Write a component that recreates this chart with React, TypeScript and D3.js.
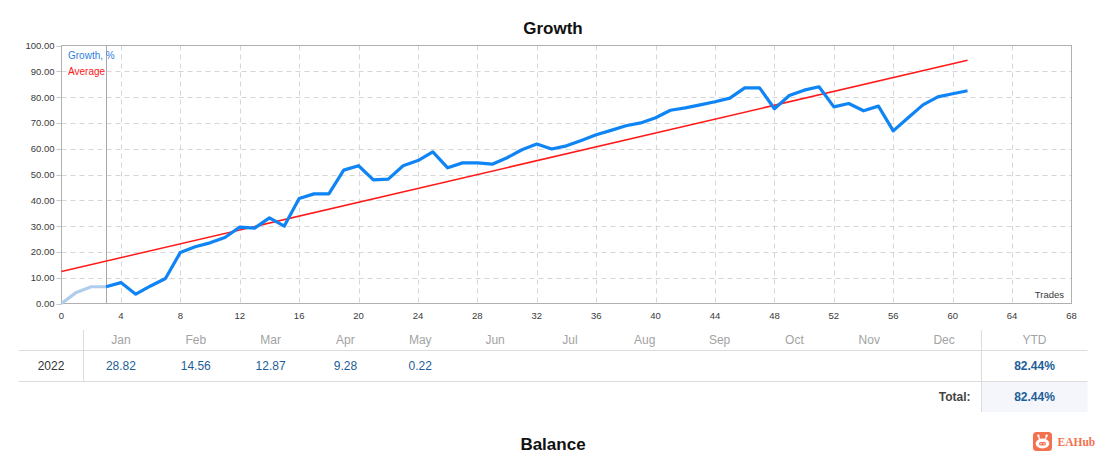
import React from "react";
import * as d3 from "d3";

const growth: number[] = [
  0, 4.3, 6.5, 6.5, 8.1, 3.6, 6.8, 9.7, 19.8, 22.0, 23.5, 25.6, 29.6, 29.2, 33.2, 30.0,
  40.7, 42.5, 42.5, 51.7, 53.4, 47.9, 48.2, 53.4, 55.4, 58.8, 52.6, 54.5, 54.5, 54.0,
  56.5, 59.6, 61.8, 59.9, 61.1, 63.2, 65.4, 67.1, 68.9, 70.0, 72.0, 74.9, 75.8, 77.0,
  78.2, 79.6, 83.6, 83.6, 75.5, 80.6, 82.7, 84.0, 76.2, 77.5, 74.7, 76.5, 66.9, 72.0,
  77.0, 80.1, 81.3, 82.44,
];
const preliminaryEnd = 3;
const averageX: number[] = [0, 61];
const averageY: number[] = [12.4, 94.3];
const xTicks: number[] = [0, 4, 8, 12, 16, 20, 24, 28, 32, 36, 40, 44, 48, 52, 56, 60, 64, 68];
const yTicks: number[] = [0, 10, 20, 30, 40, 50, 60, 70, 80, 90, 100];

const months: string[] = ["Jan", "Feb", "Mar", "Apr", "May", "Jun", "Jul", "Aug", "Sep", "Oct", "Nov", "Dec"];
const monthValues: string[] = ["28.82", "14.56", "12.87", "9.28", "0.22", "", "", "", "", "", "", ""];
const yearLabel = "2022";
const ytdValue = "82.44%";
const totalValue = "82.44%";

const FONT = "'Liberation Sans', Arial, sans-serif";

export default function App() {
  const x = d3.scaleLinear().domain([0, 68]).range([61.5, 1071.5]);
  const y = d3.scaleLinear().domain([0, 100]).range([303.5, 45.5]);
  const pts = growth.map((v, i) => [i, v] as [number, number]);
  const line = d3
    .line<[number, number]>()
    .x((d) => x(d[0]))
    .y((d) => y(d[1]));
  const prelim = pts.slice(0, preliminaryEnd + 1);
  const main = pts.slice(preliminaryEnd);
  const avg = averageX.map((v, i) => [v, averageY[i]] as [number, number]);

  const band = d3.scaleBand<string>().domain(months).range([83.5, 981.5]);
  const tableLeft = 18.5;
  const tableRight = 1087.5;

  return (
    <svg
      width={1104}
      height={456}
      style={{ position: "absolute", left: 0, top: 0, background: "#fff" }}
      fontFamily={FONT}
    >
      <text x={553} y={34} textAnchor="middle" fontSize={17} fontWeight="bold" fill="#111">
        Growth
      </text>

      {/* grid */}
      {yTicks
        .filter((t) => t > 0 && t < 100)
        .map((t) => (
          <line
            key={"gy" + t}
            x1={x(0)}
            x2={x(68)}
            y1={Math.round(y(t)) + 0.5}
            y2={Math.round(y(t)) + 0.5}
            stroke="#d6d6d6"
            strokeDasharray="5,4"
          />
        ))}
      {xTicks
        .filter((t) => t > 0 && t < 68)
        .map((t) => (
          <line
            key={"gx" + t}
            x1={Math.round(x(t)) + 0.5}
            x2={Math.round(x(t)) + 0.5}
            y1={y(100)}
            y2={y(0)}
            stroke="#d6d6d6"
            strokeDasharray="5,4"
          />
        ))}
      {/* y tick marks */}
      {yTicks.map((t) => (
        <line
          key={"ty" + t}
          x1={x(0) - 5}
          x2={x(0)}
          y1={Math.round(y(t)) + 0.5}
          y2={Math.round(y(t)) + 0.5}
          stroke="#c8c8c8"
        />
      ))}
      {/* frame */}
      <rect
        x={x(0)}
        y={y(100)}
        width={x(68) - x(0)}
        height={y(0) - y(100)}
        fill="none"
        stroke="#b0b0b0"
      />
      {/* preliminary divider */}
      <line
        x1={Math.round(x(preliminaryEnd)) + 0.5}
        x2={Math.round(x(preliminaryEnd)) + 0.5}
        y1={y(100)}
        y2={y(0)}
        stroke="#a8a8a8"
      />

      {/* y labels */}
      {yTicks.map((t) => (
        <text key={"ly" + t} x={54.5} y={y(t) + 3.5} textAnchor="end" fontSize={9.5} fill="#3a3a3a">
          {t.toFixed(2)}
        </text>
      ))}
      {/* x labels */}
      {xTicks.map((t) => (
        <text key={"lx" + t} x={x(t)} y={318.5} textAnchor="middle" fontSize={9.5} fill="#3a3a3a">
          {t}
        </text>
      ))}
      <text x={1064} y={297.5} textAnchor="end" fontSize={9.5} fill="#3a3a3a">
        Trades
      </text>

      {/* average */}
      <path d={line(avg) || ""} fill="none" stroke="#ff1a1a" strokeWidth={1.5} />
      {/* growth */}
      <path d={line(prelim) || ""} fill="none" stroke="#b0cdeb" strokeWidth={3.2} strokeLinejoin="round" />
      <path d={line(main) || ""} fill="none" stroke="#0f84f4" strokeWidth={3.2} strokeLinejoin="round" />

      {/* legend */}
      <text x={68} y={59} fontSize={10} fill="#2f7fe0">
        Growth, %
      </text>
      <text x={68} y={74.5} fontSize={10} fill="#ff1a1a">
        Average
      </text>

      {/* table */}
      <rect x={981.5} y={381.5} width={tableRight - 981.5} height={30.5} fill="#f4f6fc" />
      <line x1={tableLeft} x2={tableRight} y1={350.5} y2={350.5} stroke="#dcdcdc" />
      <line x1={tableLeft} x2={tableRight} y1={381.5} y2={381.5} stroke="#dcdcdc" />
      <line x1={83.5} x2={83.5} y1={330} y2={381.5} stroke="#dcdcdc" />
      <line x1={981.5} x2={981.5} y1={330} y2={412} stroke="#dcdcdc" />
      {months.map((m, i) => (
        <g key={m}>
          <text
            x={(band(m) || 0) + band.bandwidth() / 2}
            y={344}
            textAnchor="middle"
            fontSize={12}
            fill="#a3a3a3"
          >
            {m}
          </text>
          <text
            x={(band(m) || 0) + band.bandwidth() / 2}
            y={370}
            textAnchor="middle"
            fontSize={12}
            fill="#1d5e98"
          >
            {monthValues[i]}
          </text>
        </g>
      ))}
      <text x={1034.5} y={344} textAnchor="middle" fontSize={12} fill="#a3a3a3">
        YTD
      </text>
      <text x={51} y={370} textAnchor="middle" fontSize={12} fill="#333">
        {yearLabel}
      </text>
      <text x={1034.5} y={370} textAnchor="middle" fontSize={12} fill="#1d5e98" fontWeight={600}>
        {ytdValue}
      </text>
      <text x={970.5} y={401} textAnchor="end" fontSize={12} fill="#444" fontWeight={600}>
        Total:
      </text>
      <text x={1034.5} y={401} textAnchor="middle" fontSize={12} fill="#1d5e98" fontWeight={600}>
        {totalValue}
      </text>

      <text x={553} y={450} textAnchor="middle" fontSize={17} fontWeight="bold" fill="#111">
        Balance
      </text>

      {/* logo */}
      <g>
        <rect x={1033} y={432} width={19} height={19} rx={3.5} fill="#f3714f" />
        <line x1={1039.5} y1={439} x2={1038.5} y2={436} stroke="#fff" strokeWidth={1.3} />
        <line x1={1045.5} y1={439} x2={1046.5} y2={436} stroke="#fff" strokeWidth={1.3} />
        <circle cx={1038.3} cy={435.6} r={1.2} fill="#fff" />
        <circle cx={1046.7} cy={435.6} r={1.2} fill="#fff" />
        <ellipse cx={1042.5} cy={443.5} rx={6.8} ry={5} fill="#fff" />
        <rect x={1039} y={442} width={7} height={3.6} rx={1.8} fill="#f3714f" />
        <circle cx={1041} cy={443.8} r={0.7} fill="#fff" />
        <circle cx={1044} cy={443.8} r={0.7} fill="#fff" />
        <text
          x={1057.5}
          y={445.5}
          fontSize={11.5}
          fontWeight="bold"
          fill="#f3714f"
          fontFamily="'Liberation Serif', 'DejaVu Serif', serif"
        >
          EAHub
        </text>
      </g>
    </svg>
  );
}
